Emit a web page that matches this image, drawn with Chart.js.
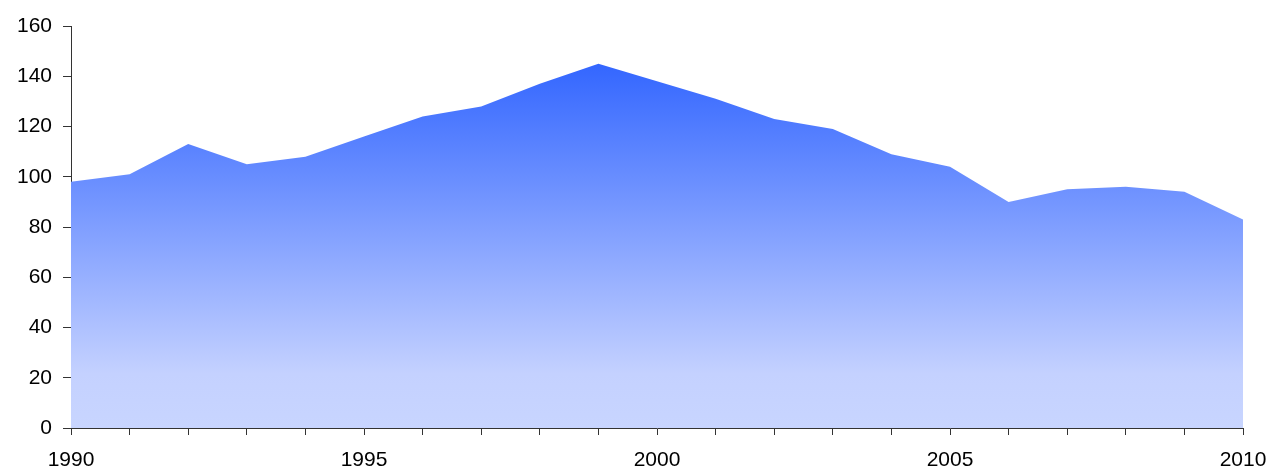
<!DOCTYPE html>
<html>
<head>
<meta charset="utf-8">
<script src="https://cdn.jsdelivr.net/npm/chart.js@4/dist/chart.umd.min.js"></script>
<style>
html,body{margin:0;padding:0;background:#fff;}
#wrap{width:1273px;height:471px;position:relative;}
</style>
</head>
<body>
<div id="wrap"><canvas id="c" width="1273" height="471"></canvas></div>
<script>
const years = [1990,1991,1992,1993,1994,1995,1996,1997,1998,1999,2000,2001,2002,2003,2004,2005,2006,2007,2008,2009,2010];
const values = [98,101,113,105,108,116,124,128,137,145,138,131,123,119,109,104,90,95,96,94,83];
const yTicks = [0,20,40,60,80,100,120,140,160];
const xLabelYears = [1990,1995,2000,2005,2010];

const points = years.map((y,i)=>({x:y,y:values[i]}));

function gradientFill(ctx){
  const chart = ctx.chart;
  const area = chart.chartArea;
  if(!area) return 'rgba(90,120,255,0.8)';
  const ys = chart.scales.y;
  const top = ys.getPixelForValue(Math.max(...values));
  const bottom = ys.getPixelForValue(0);
  const g = chart.ctx.createLinearGradient(0, top, 0, bottom);
  g.addColorStop(0, 'rgb(51,102,255)');
  g.addColorStop(0.85, 'rgb(196,209,255)');
  g.addColorStop(1, 'rgb(200,213,255)');
  return g;
}

const axisFont = {family:'"Liberation Sans", Arial, sans-serif', size:21};

new Chart(document.getElementById('c'), {
  type:'line',
  data:{datasets:[{
    data:points,
    fill:'origin',
    backgroundColor:gradientFill,
    borderWidth:0,
    borderColor:'rgba(0,0,0,0)',
    pointRadius:0,
    tension:0
  }]},
  options:{
    responsive:false,
    animation:false,
    events:[],
    layout:{autoPadding:false,padding:{top:26,right:30,left:0,bottom:0}},
    plugins:{legend:{display:false},tooltip:{enabled:false}},
    scales:{
      x:{
        type:'linear',
        min:1990,max:2010,
        afterBuildTicks:(s)=>{ s.ticks = years.map(v=>({value:v})); },
        afterFit:(s)=>{ s.height = 43; s.paddingLeft = 0; s.paddingRight = 0; },
        ticks:{
          autoSkip:false,maxRotation:0,
          color:'#000',font:axisFont,padding:13,
          callback:(v)=> xLabelYears.includes(v) ? String(v) : ''
        },
        grid:{display:true,drawOnChartArea:false,drawTicks:true,tickLength:7,color:'#333',lineWidth:1},
        border:{display:true,color:'#333',width:1}
      },
      y:{
        min:0,max:160,
        afterBuildTicks:(s)=>{ s.ticks = yTicks.map(v=>({value:v})); },
        afterFit:(s)=>{ s.width = 71; s.paddingTop = 0; s.paddingBottom = 0; },
        ticks:{color:'#000',font:axisFont,padding:11},
        grid:{display:true,drawOnChartArea:false,drawTicks:true,tickLength:8,color:'#333',lineWidth:1},
        border:{display:true,color:'#333',width:1}
      }
    }
  }
});
</script>
</body>
</html>
